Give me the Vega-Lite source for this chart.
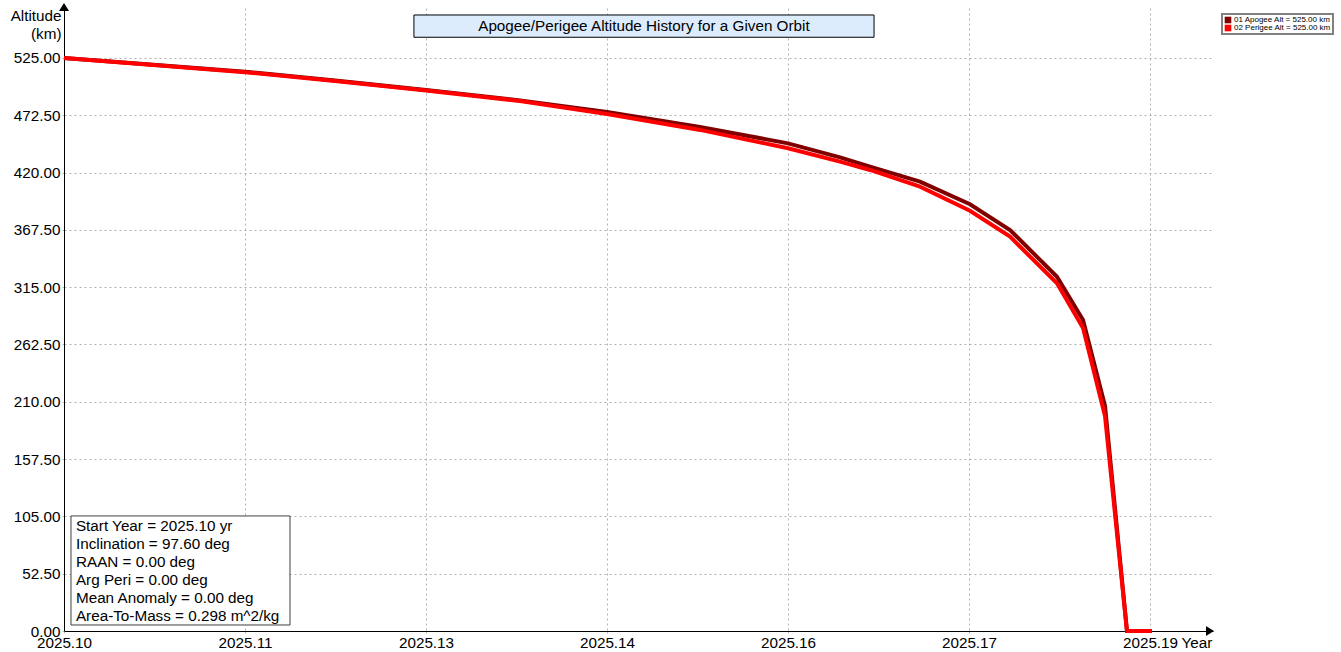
{
  "$schema": "https://vega.github.io/schema/vega-lite/v6.json",
  "width": 1149,
  "height": 623,
  "autosize": {"type": "none"},
  "padding": {"left": 64, "top": 8, "right": 128, "bottom": 21},
  "background": "white",
  "config": {
    "font": "Liberation Sans",
    "view": {"stroke": null},
    "axis": {
      "labelFont": "Liberation Sans",
      "titleFont": "Liberation Sans",
      "labelFontSize": 15.25,
      "titleFontSize": 15.25,
      "titleFontWeight": "normal",
      "labelColor": "black",
      "titleColor": "black",
      "domainColor": "black",
      "domainWidth": 1,
      "tickSize": 4,
      "tickColor": "#b4b4b4",
      "tickDash": [2, 2],
      "grid": true,
      "gridColor": "#b0b0b0",
      "gridDash": [2, 3],
      "gridWidth": 1,
      "labelOverlap": false,
      "labelFlush": false
    }
  },
  "datasets": {
    "orbit": [
      {"series": "01 Apogee Alt = 525.00 km", "year": 2025.1, "alt": 525.0},
      {"series": "01 Apogee Alt = 525.00 km", "year": 2025.10713, "alt": 519.0},
      {"series": "01 Apogee Alt = 525.00 km", "year": 2025.115, "alt": 512.4},
      {"series": "01 Apogee Alt = 525.00 km", "year": 2025.12246, "alt": 504.4},
      {"series": "01 Apogee Alt = 525.00 km", "year": 2025.13, "alt": 495.7},
      {"series": "01 Apogee Alt = 525.00 km", "year": 2025.13779, "alt": 486.1},
      {"series": "01 Apogee Alt = 525.00 km", "year": 2025.145, "alt": 475.5},
      {"series": "01 Apogee Alt = 525.00 km", "year": 2025.15271, "alt": 461.8},
      {"series": "01 Apogee Alt = 525.00 km", "year": 2025.16, "alt": 446.8},
      {"series": "01 Apogee Alt = 525.00 km", "year": 2025.16431, "alt": 434.0},
      {"series": "01 Apogee Alt = 525.00 km", "year": 2025.1668, "alt": 425.4},
      {"series": "01 Apogee Alt = 525.00 km", "year": 2025.17094, "alt": 411.7},
      {"series": "01 Apogee Alt = 525.00 km", "year": 2025.17508, "alt": 391.0},
      {"series": "01 Apogee Alt = 525.00 km", "year": 2025.1784, "alt": 367.4},
      {"series": "01 Apogee Alt = 525.00 km", "year": 2025.18229, "alt": 324.6},
      {"series": "01 Apogee Alt = 525.00 km", "year": 2025.18445, "alt": 284.9},
      {"series": "01 Apogee Alt = 525.00 km", "year": 2025.18627, "alt": 206.2},
      {"series": "01 Apogee Alt = 525.00 km", "year": 2025.18809, "alt": 0},
      {"series": "01 Apogee Alt = 525.00 km", "year": 2025.19016, "alt": 0},
      {"series": "02 Perigee Alt = 525.00 km", "year": 2025.1, "alt": 525.0},
      {"series": "02 Perigee Alt = 525.00 km", "year": 2025.10713, "alt": 518.8},
      {"series": "02 Perigee Alt = 525.00 km", "year": 2025.115, "alt": 512.0},
      {"series": "02 Perigee Alt = 525.00 km", "year": 2025.12246, "alt": 504.0},
      {"series": "02 Perigee Alt = 525.00 km", "year": 2025.13, "alt": 495.2},
      {"series": "02 Perigee Alt = 525.00 km", "year": 2025.13779, "alt": 485.6},
      {"series": "02 Perigee Alt = 525.00 km", "year": 2025.145, "alt": 473.7},
      {"series": "02 Perigee Alt = 525.00 km", "year": 2025.15271, "alt": 459.1},
      {"series": "02 Perigee Alt = 525.00 km", "year": 2025.16, "alt": 442.3},
      {"series": "02 Perigee Alt = 525.00 km", "year": 2025.16431, "alt": 430.0},
      {"series": "02 Perigee Alt = 525.00 km", "year": 2025.1668, "alt": 422.4},
      {"series": "02 Perigee Alt = 525.00 km", "year": 2025.17094, "alt": 407.1},
      {"series": "02 Perigee Alt = 525.00 km", "year": 2025.17508, "alt": 385.0},
      {"series": "02 Perigee Alt = 525.00 km", "year": 2025.1784, "alt": 361.3},
      {"series": "02 Perigee Alt = 525.00 km", "year": 2025.18229, "alt": 318.6},
      {"series": "02 Perigee Alt = 525.00 km", "year": 2025.18445, "alt": 277.6},
      {"series": "02 Perigee Alt = 525.00 km", "year": 2025.18627, "alt": 197.0},
      {"series": "02 Perigee Alt = 525.00 km", "year": 2025.18809, "alt": 0},
      {"series": "02 Perigee Alt = 525.00 km", "year": 2025.19016, "alt": 0}
    ],
    "titlebox": [
      {"year": 2025.129, "year2": 2025.16713, "alt": 564.4, "alt2": 544.0, "tx": 2025.14806, "ty": 549.6, "label": "Apogee/Perigee Altitude History for a Given Orbit"}
    ],
    "infobox": [
      {"year": 2025.10058, "year2": 2025.11873, "alt": 105.4, "alt2": 5.5, "tx": 2025.10099, "ty": 91.9,
       "lines": ["Start Year = 2025.10 yr", "Inclination = 97.60 deg", "RAAN = 0.00 deg", "Arg Peri = 0.00 deg", "Mean Anomaly = 0.00 deg", "Area-To-Mass = 0.298 m^2/kg"]}
    ],
    "arrowUp": [{"year": 2025.1, "alt": 571.7}],
    "arrowRight": [{"year": 2025.19497, "alt": 0}]
  },
  "encoding": {
    "x": {
      "field": "year",
      "type": "quantitative",
      "scale": {"domain": [2025.1, 2025.19522], "nice": false, "zero": false},
      "axis": {
        "values": [2025.1, 2025.115, 2025.13, 2025.145, 2025.16, 2025.175, 2025.19],
        "labelExpr": "['2025.10','2025.11','2025.13','2025.14','2025.16','2025.17','2025.19'][round((datum.value-2025.1)/0.015)]",
        "labelPadding": 0,
        "title": "Year",
        "titleAngle": 0,
        "titleX": 1117,
        "titleY": 16.5,
        "titleAlign": "left",
        "titleBaseline": "alphabetic"
      }
    },
    "y": {
      "field": "alt",
      "type": "quantitative",
      "scale": {"domain": [0, 570.8], "nice": false, "zero": false},
      "axis": {
        "values": [0, 52.5, 105, 157.5, 210, 262.5, 315, 367.5, 420, 472.5, 525],
        "format": ".2f",
        "labelPadding": 0,
        "title": ["Altitude", "(km)"],
        "titleAngle": 0,
        "titleAlign": "right",
        "titleBaseline": "alphabetic",
        "titleX": -3,
        "titleY": 12.7,
        "titleLineHeight": 18
      }
    }
  },
  "layer": [
    {
      "data": {"name": "titlebox"},
      "mark": {"type": "rect", "fill": "#dcecfc", "stroke": "black", "strokeWidth": 1},
      "encoding": {"x2": {"field": "year2"}, "y2": {"field": "alt2"}}
    },
    {
      "data": {"name": "titlebox"},
      "mark": {"type": "text", "fontSize": 15.25, "align": "center", "baseline": "alphabetic", "color": "black"},
      "encoding": {
        "x": {"field": "tx", "type": "quantitative"},
        "y": {"field": "ty", "type": "quantitative"},
        "text": {"field": "label"}
      }
    },
    {
      "data": {"name": "orbit"},
      "mark": {"type": "line", "strokeWidth": 4, "strokeJoin": "miter"},
      "encoding": {
        "color": {
          "field": "series",
          "type": "nominal",
          "scale": {"domain": ["01 Apogee Alt = 525.00 km", "02 Perigee Alt = 525.00 km"], "range": ["#800000", "#ff0000"]},
          "legend": {
            "title": null,
            "orient": "none",
            "legendX": 1158,
            "legendY": 6,
            "symbolType": "square",
            "symbolSize": 44,
            "symbolStrokeWidth": 0,
            "labelFontSize": 8,
            "labelFont": "Liberation Sans",
            "labelColor": "black",
            "labelOffset": 2,
            "padding": 2,
            "rowPadding": 0,
            "strokeColor": "#808080",
            "fillColor": "white",
            "encode": {
              "symbols": {"update": {"fill": {"scale": "color", "field": "value"}, "opacity": {"value": 1}}},
              "legend": {"update": {"strokeWidth": {"value": 2}}}
            }
          }
        }
      }
    },
    {
      "data": {"name": "infobox"},
      "mark": {"type": "rect", "fill": "white", "stroke": "#404040", "strokeWidth": 1},
      "encoding": {"x2": {"field": "year2"}, "y2": {"field": "alt2"}}
    },
    {
      "data": {"name": "infobox"},
      "mark": {"type": "text", "fontSize": 15.25, "align": "left", "baseline": "alphabetic", "lineHeight": 18, "color": "black"},
      "encoding": {
        "x": {"field": "tx", "type": "quantitative"},
        "y": {"field": "ty", "type": "quantitative"},
        "text": {"field": "lines"}
      }
    },
    {
      "data": {"name": "arrowUp"},
      "mark": {"type": "point", "shape": "M-1,0.8L0,-0.8L1,0.8Z", "size": 100, "filled": true, "color": "black", "opacity": 1, "strokeWidth": 0}
    },
    {
      "data": {"name": "arrowRight"},
      "mark": {"type": "point", "shape": "M-0.8,-1L0.8,0L-0.8,1Z", "size": 100, "filled": true, "color": "black", "opacity": 1, "strokeWidth": 0}
    }
  ]
}
